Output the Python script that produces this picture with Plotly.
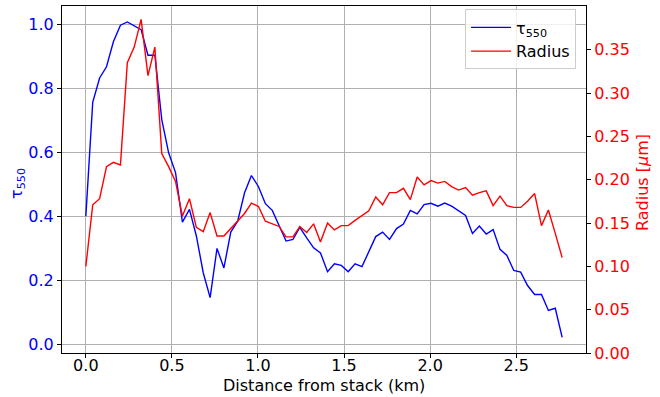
import plotly.graph_objects as go

distance_km = [0.000, 0.040, 0.080, 0.120, 0.160, 0.201, 0.241, 0.281, 0.321, 0.361,
               0.401, 0.441, 0.481, 0.521, 0.561, 0.602, 0.642, 0.682, 0.722, 0.762,
               0.802, 0.842, 0.882, 0.922, 0.962, 1.003, 1.043, 1.083, 1.123, 1.163,
               1.203, 1.243, 1.283, 1.323, 1.363, 1.404, 1.444, 1.484, 1.524, 1.564,
               1.604, 1.644, 1.684, 1.724, 1.764, 1.805, 1.845, 1.885, 1.925, 1.965,
               2.005, 2.045, 2.085, 2.125, 2.165, 2.206, 2.246, 2.286, 2.326, 2.366,
               2.406, 2.446, 2.486, 2.526, 2.566, 2.607, 2.647, 2.687, 2.727, 2.767]

tau550 = [0.400, 0.756, 0.832, 0.867, 0.945, 0.997, 1.007, 0.996, 0.983, 0.903,
          0.903, 0.702, 0.598, 0.536, 0.381, 0.421, 0.338, 0.223, 0.145, 0.299,
          0.238, 0.350, 0.384, 0.473, 0.527, 0.492, 0.439, 0.418, 0.371, 0.322,
          0.327, 0.365, 0.332, 0.301, 0.285, 0.226, 0.251, 0.246, 0.226, 0.251,
          0.242, 0.291, 0.336, 0.350, 0.327, 0.361, 0.375, 0.418, 0.407, 0.436,
          0.440, 0.431, 0.441, 0.431, 0.418, 0.402, 0.346, 0.369, 0.344, 0.358,
          0.296, 0.277, 0.230, 0.225, 0.183, 0.155, 0.155, 0.105, 0.112, 0.021]

radius_um = [0.100, 0.171, 0.178, 0.215, 0.220, 0.217, 0.335, 0.353, 0.385, 0.320,
             0.353, 0.230, 0.215, 0.198, 0.158, 0.178, 0.145, 0.140, 0.162, 0.135,
             0.135, 0.144, 0.152, 0.161, 0.173, 0.169, 0.152, 0.149, 0.146, 0.134,
             0.134, 0.146, 0.139, 0.149, 0.128, 0.150, 0.142, 0.147, 0.147, 0.153,
             0.159, 0.164, 0.180, 0.171, 0.185, 0.185, 0.190, 0.177, 0.203, 0.194,
             0.199, 0.196, 0.198, 0.192, 0.188, 0.191, 0.182, 0.185, 0.187, 0.170,
             0.181, 0.170, 0.168, 0.168, 0.175, 0.184, 0.147, 0.165, 0.138, 0.110]

x_ticks = [0.0, 0.5, 1.0, 1.5, 2.0, 2.5]
left_ticks = [0.0, 0.2, 0.4, 0.6, 0.8, 1.0]
right_ticks = [0.00, 0.05, 0.10, 0.15, 0.20, 0.25, 0.30, 0.35]

FONT = "DejaVu Sans"

fig = go.Figure()
fig.add_trace(go.Scatter(x=distance_km, y=tau550, mode="lines",
                         name="τ<sub>550</sub>",
                         line=dict(color="blue", width=1.4)))
fig.add_trace(go.Scatter(x=distance_km, y=radius_um, mode="lines",
                         name="Radius", yaxis="y2",
                         line=dict(color="red", width=1.4)))

fig.update_layout(
    width=660, height=397,
    margin=dict(l=62, r=74, t=6, b=44, autoexpand=False),
    paper_bgcolor="white", plot_bgcolor="white",
    font=dict(family=FONT, size=16, color="black"),
    showlegend=True,
    legend=dict(x=0.981, y=0.99, xanchor="right", yanchor="top",
                bgcolor="rgba(255,255,255,0.8)", bordercolor="#cccccc",
                borderwidth=1, itemwidth=40, tracegroupgap=0,
                font=dict(size=16, family=FONT)),
    xaxis=dict(range=[-0.1385, 2.9055], tickvals=x_ticks,
               ticktext=[f"{v:.1f}" for v in x_ticks],
               showgrid=True, gridcolor="#b0b0b0", gridwidth=1,
               showline=True, linecolor="black", linewidth=1, mirror=True,
               ticks="outside", ticklen=4, tickcolor="black",
               ticklabelstandoff=-6,
               zeroline=False, automargin=False),
    yaxis=dict(range=[-0.028, 1.057], tickvals=left_ticks,
               ticktext=[f"{v:.1f}" for v in left_ticks],
               tickfont=dict(color="blue", size=16),
               showgrid=True, gridcolor="#b0b0b0", gridwidth=1,
               showline=True, linecolor="black", linewidth=1,
               ticks="outside", ticklen=4, tickcolor="black",
               zeroline=False, automargin=False),
    yaxis2=dict(range=[0, 0.4004], tickvals=right_ticks,
                ticktext=[f"{v:.2f}" for v in right_ticks],
                tickfont=dict(color="red", size=16),
                overlaying="y", side="right",
                showgrid=False, zeroline=False,
                showline=True, linecolor="black", linewidth=1,
                ticks="outside", ticklen=4, tickcolor="black",
                automargin=False),
    annotations=[
        dict(text="Distance from stack (km)", xref="paper", yref="paper",
             x=0.5, y=-0.0925, xanchor="center", yanchor="middle",
             showarrow=False, font=dict(size=16, color="black", family=FONT)),
        dict(text="τ<sub>550</sub>", xref="paper", yref="paper",
             x=-0.084, y=0.49, xanchor="center", yanchor="middle",
             textangle=-90, showarrow=False,
             font=dict(size=16, color="blue", family=FONT)),
        dict(text="Radius [<i>μ</i>m]", xref="paper", yref="paper",
             x=1.1088, y=0.49, xanchor="center", yanchor="middle",
             textangle=-90, showarrow=False,
             font=dict(size=16, color="red", family=FONT)),
    ],
)

fig.write_html("out.html",
               config={"displayModeBar": False},
               post_script="document.body.style.margin='0';"
                           "document.body.style.padding='0';")
